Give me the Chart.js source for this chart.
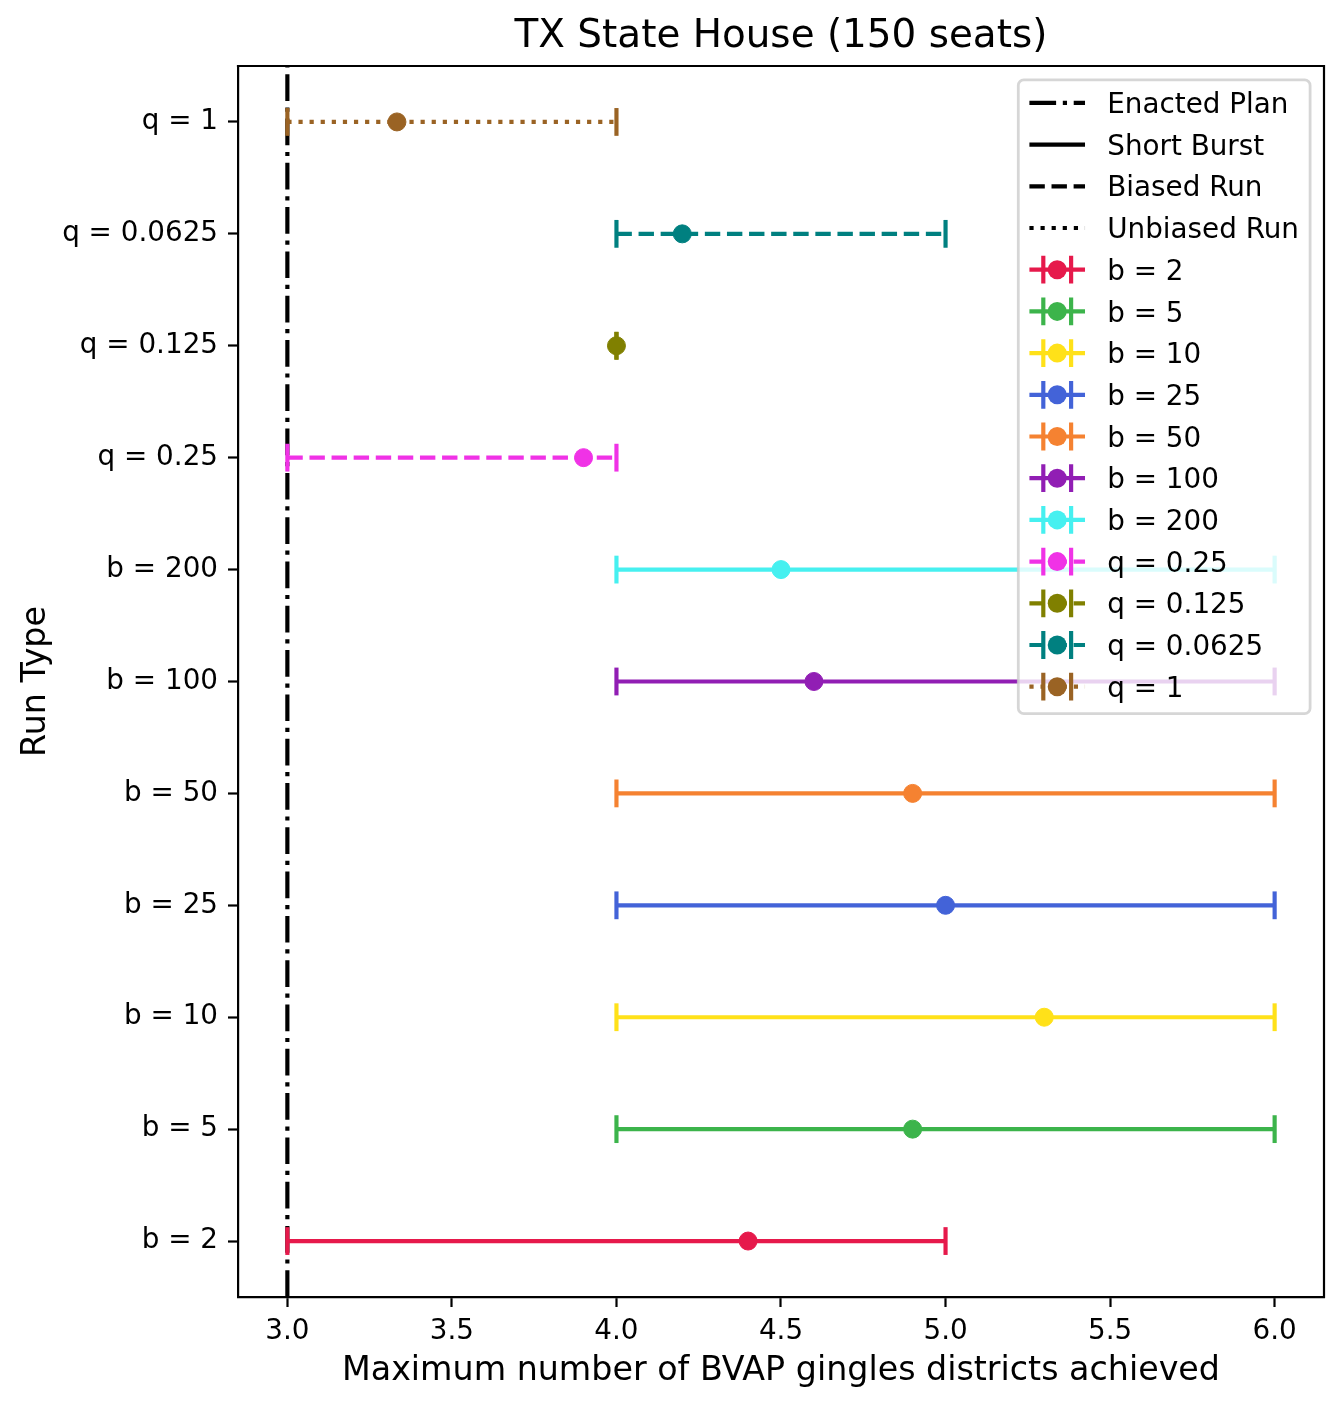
<!DOCTYPE html>
<html>
<head>
<meta charset="utf-8">
<title>TX State House (150 seats)</title>
<script src="https://cdn.jsdelivr.net/npm/chart.js@4/dist/chart.umd.min.js"></script>
<style>
  html, body { margin: 0; padding: 0; background: #ffffff; }
  #wrap { width: 1344px; height: 1410px; }
</style>
</head>
<body>
<div id="wrap"><canvas id="c" width="1344" height="1410"></canvas></div>
<script>
// ---------- data ----------
const categories = ['b = 2', 'b = 5', 'b = 10', 'b = 25', 'b = 50', 'b = 100', 'b = 200',
                    'q = 0.25', 'q = 0.125', 'q = 0.0625', 'q = 1'];
const means = [4.4, 4.9, 5.3, 5.0, 4.9, 4.6, 4.5, 3.9, 4.0, 4.2, 3.333];
const lows  = [3, 4, 4, 4, 4, 4, 4, 3, 4, 4, 3];
const highs = [5, 6, 6, 6, 6, 6, 6, 4, 4, 5, 4];
const runTypes = ['short', 'short', 'short', 'short', 'short', 'short', 'short',
                  'biased', 'biased', 'biased', 'unbiased'];
const enactedValue = 3;
const xTickValues = [3.0, 3.5, 4.0, 4.5, 5.0, 5.5, 6.0];
const styleLabels = ['Enacted Plan', 'Short Burst', 'Biased Run', 'Unbiased Run'];
const styleKeys = ['enacted', 'short', 'biased', 'unbiased'];
const titleText = 'TX State House (150 seats)';
const xTitle = 'Maximum number of BVAP gingles districts achieved';
const yTitle = 'Run Type';

// ---------- styles ----------
const colors = ['#e6194b', '#3cb44b', '#ffe119', '#4363d8', '#f58231', '#911eb4',
                '#46f0f0', '#f032e6', '#808000', '#008080', '#9a6324'];
const dashes = {
  enacted: [26.7, 6.7, 4.2, 6.7],
  short: [],
  biased: [15.4, 6.7],
  unbiased: [4.2, 6.9]
};
const FONT = 'DejaVu Sans';
const FS = 27.8;
const LW = 4.17;
const CAP = 13.9;
const MARK = 9;
const xMin = 2.85, xMax = 6.15, yMin = -0.5, yMax = 10.5;

Chart.defaults.font.family = FONT;
Chart.defaults.color = '#000';

const seriesSets = categories.map((cat, i) => ({
  label: cat,
  data: [{x: lows[i], y: i}, {x: means[i], y: i}, {x: highs[i], y: i}],
  showLine: true,
  borderColor: colors[i],
  backgroundColor: colors[i],
  borderWidth: LW,
  borderDash: dashes[runTypes[i]],
  pointStyle: ['line', 'circle', 'line'],
  pointRotation: [90, 0, 90],
  pointRadius: [CAP, MARK, CAP],
  pointBorderWidth: [LW, 1, LW],
  pointBackgroundColor: colors[i],
  pointBorderColor: colors[i],
  order: categories.length - i
}));

const enactedSet = {
  label: 'Enacted Plan',
  data: [{x: enactedValue, y: yMin}, {x: enactedValue, y: yMax}],
  showLine: true,
  borderColor: '#000',
  borderWidth: LW,
  borderDash: dashes.enacted,
  pointRadius: 0,
  order: 100
};

// ---------- plugins ----------
const titleAlignPlugin = {
  id: 'titleAlign',
  afterLayout(chart) {
    const t = chart.titleBlock;
    if (t) {
      t.left = chart.chartArea.left;
      t.right = chart.chartArea.right;
    }
  }
};

const framePlugin = {
  id: 'frame',
  afterDatasetsDraw(chart) {
    const {ctx, chartArea: a} = chart;
    ctx.save();
    ctx.strokeStyle = '#000';
    ctx.lineWidth = 2.2;
    ctx.beginPath();
    ctx.moveTo(a.left - 1.1, a.top);
    ctx.lineTo(a.right, a.top);
    ctx.lineTo(a.right, a.bottom + 1.1);
    ctx.stroke();
    ctx.restore();
  }
};

function drawHandleLine(ctx, x0, x1, y, color, dash) {
  ctx.save();
  ctx.strokeStyle = color;
  ctx.lineWidth = LW;
  ctx.lineCap = 'butt';
  ctx.setLineDash(dash);
  ctx.beginPath();
  ctx.moveTo(x0, y);
  ctx.lineTo(x1, y);
  ctx.stroke();
  ctx.restore();
}

const legendPlugin = {
  id: 'mplLegend',
  afterDraw(chart) {
    const {ctx, chartArea: a} = chart;
    const borderAxesPad = 0.5 * FS;
    const borderPad = 0.4 * FS;
    const handleLen = 2.0 * FS;
    const textPad = 0.8 * FS;
    const spacing = 0.5 * FS;
    const entries = [];
    styleLabels.forEach((lab, k) => entries.push({label: lab, color: '#000', dash: dashes[styleKeys[k]], err: false}));
    categories.forEach((cat, i) => entries.push({label: cat, color: colors[i], dash: dashes[runTypes[i]], err: true}));
    ctx.save();
    ctx.font = FS + 'px "' + FONT + '"';
    let textW = 0;
    entries.forEach(e => { textW = Math.max(textW, ctx.measureText(e.label).width); });
    const rowH = FS;
    const boxW = 2 * borderPad + handleLen + textPad + textW;
    const boxH = 2 * borderPad + entries.length * rowH + (entries.length - 1) * spacing;
    const bx = a.right - borderAxesPad - boxW;
    const by = a.top + borderAxesPad;
    // frame
    ctx.beginPath();
    if (ctx.roundRect) ctx.roundRect(bx, by, boxW, boxH, 0.2 * FS); else ctx.rect(bx, by, boxW, boxH);
    ctx.fillStyle = 'rgba(255,255,255,0.8)';
    ctx.fill();
    ctx.lineWidth = 2.78;
    ctx.strokeStyle = 'rgba(204,204,204,0.8)';
    ctx.stroke();
    const hx0 = bx + borderPad;
    const hx1 = hx0 + handleLen;
    const hc = (hx0 + hx1) / 2;
    const tx = hx1 + textPad;
    entries.forEach((e, k) => {
      const cy = by + borderPad + rowH / 2 - 2 + k * (rowH + spacing);
      drawHandleLine(ctx, hx0, hx1, cy, e.color, e.dash);
      if (e.err) {
        ctx.save();
        ctx.strokeStyle = e.color;
        ctx.lineWidth = LW;
        ctx.beginPath();
        ctx.moveTo(hc - CAP, cy - CAP); ctx.lineTo(hc - CAP, cy + CAP);
        ctx.moveTo(hc + CAP, cy - CAP); ctx.lineTo(hc + CAP, cy + CAP);
        ctx.stroke();
        ctx.fillStyle = e.color;
        ctx.beginPath();
        ctx.arc(hc, cy, MARK + 0.5, 0, Math.PI * 2);
        ctx.fill();
        ctx.restore();
      }
      ctx.fillStyle = '#000';
      ctx.textAlign = 'left';
      ctx.textBaseline = 'alphabetic';
      ctx.fillText(e.label, tx, cy + 0.365 * FS);
    });
    ctx.restore();
  }
};

// ---------- chart ----------
new Chart(document.getElementById('c'), {
  type: 'scatter',
  data: { datasets: [...seriesSets, enactedSet] },
  options: {
    responsive: false,
    devicePixelRatio: 1,
    animation: false,
    events: [],
    layout: { padding: { left: 0, right: 20, top: 0, bottom: 0 } },
    plugins: {
      legend: { display: false },
      tooltip: { enabled: false },
      title: {
        display: true,
        text: titleText,
        color: '#000',
        font: { size: 38.9, weight: 'normal', family: FONT, lineHeight: 1.2 },
        padding: { top: 14, bottom: 5.3 }
      }
    },
    scales: {
      x: {
        type: 'linear',
        min: xMin, max: xMax,
        afterBuildTicks: s => { s.ticks = xTickValues.map(v => ({value: v})); },
        afterFit: s => { s.height = 113; },
        ticks: {
          callback: v => Number(v).toFixed(1),
          font: { size: FS, family: FONT },
          color: '#000',
          padding: 8,
          maxRotation: 0,
          autoSkip: false
        },
        grid: { display: true, drawOnChartArea: false, drawTicks: true, tickLength: 10, tickWidth: 2.2, tickColor: '#000' },
        border: { display: true, color: '#000', width: 2.2 },
        title: {
          display: true, text: xTitle, color: '#000',
          font: { size: 33.3, family: FONT, lineHeight: 1.2 },
          padding: { top: 4, bottom: 19 }
        }
      },
      y: {
        type: 'linear',
        min: yMin, max: yMax,
        afterBuildTicks: s => { s.ticks = categories.map((_, i) => ({value: i})); },
        afterFit: s => { s.width = 238; },
        ticks: {
          callback: v => categories[v],
          font: { size: FS, family: FONT },
          color: '#000',
          padding: 10,
          autoSkip: false
        },
        grid: { display: true, drawOnChartArea: false, drawTicks: true, tickLength: 10, tickWidth: 2.2, tickColor: '#000' },
        border: { display: true, color: '#000', width: 2.2 },
        title: {
          display: true, text: yTitle, color: '#000',
          font: { size: 33.3, family: FONT, lineHeight: 1.2 },
          padding: { top: 16, bottom: 4 }
        }
      }
    }
  },
  plugins: [titleAlignPlugin, framePlugin, legendPlugin]
});
</script>
</body>
</html>
